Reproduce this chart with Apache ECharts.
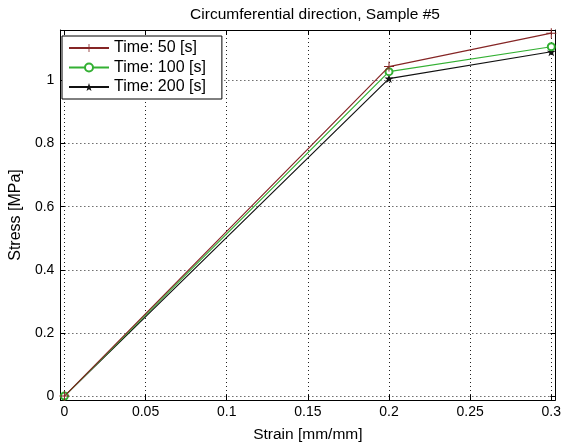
<!DOCTYPE html>
<html>
<head>
<meta charset="utf-8">
<script src="https://cdn.jsdelivr.net/npm/echarts@6/dist/echarts.min.js"></script>
<style>
html,body{margin:0;padding:0;background:#fff;}
#c{width:564px;height:448px;}
</style>
</head>
<body>
<div id="c"></div>
<script>
const titleText = 'Circumferential direction, Sample #5';
const xName = 'Strain [mm/mm]';
const yName = 'Stress [MPa]';
const strain = [0, 0.2, 0.3];
const stress50 = [0, 1.044, 1.150];
const stress100 = [0, 1.028, 1.107];
const stress200 = [0, 1.006, 1.091];
const seriesNames = ['Time: 50 [s]', 'Time: 100 [s]', 'Time: 200 [s]'];
const xTicks = [0, 0.05, 0.1, 0.15, 0.2, 0.25, 0.3];
const yTicks = [0, 0.2, 0.4, 0.6, 0.8, 1];

const font = 'Liberation Sans, Arial, sans-serif';
const chart = echarts.init(document.getElementById('c'), null, {renderer: 'canvas'});

function pairs(ys) { return strain.map((x, i) => [x, ys[i]]); }

const plusPath = 'path://M-0.6,-6h1.2v12h-1.2z M-6,-0.6h12v1.2h-12z';
const starPath = 'path://M0,-10 L2.35,-3.24 L9.51,-3.09 L3.8,1.24 L5.88,8.09 L0,4 L-5.88,8.09 L-3.8,1.24 L-9.51,-3.09 L-2.35,-3.24 Z';

const gridLine = {show: true, lineStyle: {color: '#222', type: [1, 3], width: 1}};
const frameLine = {show: true, onZero: false, lineStyle: {color: '#000', width: 1}};
const tickIn = {show: true, inside: true, length: 5, lineStyle: {color: '#000'}};

chart.setOption({
  animation: false,
  backgroundColor: '#fff',
  title: {
    text: titleText, left: 310, top: 2, textAlign: 'center',
    textStyle: {fontFamily: font, fontSize: 15.5, fontWeight: 'normal', color: '#000'}
  },
  grid: {left: 58, right: 3, top: 30, bottom: 46, containLabel: false},
  legend: {
    data: seriesNames, orient: 'vertical', left: 62, top: 36,
    backgroundColor: '#fff', borderColor: '#000', borderWidth: 1,
    padding: [4, 16, 4, 6], itemGap: 3.5, itemWidth: 40, itemHeight: 10,
    textStyle: {fontFamily: font, fontSize: 16, color: '#000'}
  },
  xAxis: [{
    type: 'value', min: -0.0025, max: 0.3025, position: 'bottom',
    name: xName, nameLocation: 'middle', nameGap: 27,
    nameTextStyle: {fontFamily: font, fontSize: 15.5, color: '#000'},
    axisLine: frameLine, axisTick: Object.assign({customValues: xTicks}, tickIn),
    axisLabel: {customValues: xTicks, fontFamily: font, fontSize: 14, color: '#000', margin: 5,
      formatter: v => String(+v.toFixed(2))},
    splitLine: Object.assign({customValues: xTicks}, gridLine)
  }, {
    type: 'value', min: -0.0025, max: 0.3025, position: 'top',
    axisLine: frameLine, axisTick: Object.assign({customValues: xTicks}, tickIn),
    axisLabel: {show: false}, splitLine: {show: false}
  }],
  yAxis: [{
    type: 'value', min: -0.0125, max: 1.16, position: 'left',
    name: yName, nameLocation: 'middle', nameGap: 32, nameRotate: 90,
    nameTextStyle: {fontFamily: font, fontSize: 16, color: '#000'},
    axisLine: frameLine, axisTick: Object.assign({customValues: yTicks}, tickIn),
    axisLabel: {customValues: yTicks, fontFamily: font, fontSize: 14, color: '#000', margin: 6,
      formatter: v => String(+v.toFixed(1))},
    splitLine: Object.assign({customValues: yTicks}, gridLine)
  }, {
    type: 'value', min: -0.0125, max: 1.16, position: 'right',
    axisLine: frameLine, axisTick: Object.assign({customValues: yTicks}, tickIn),
    axisLabel: {show: false}, splitLine: {show: false}
  }],
  series: [{
    name: seriesNames[0], type: 'line', data: pairs(stress50),
    symbol: plusPath, symbolSize: 10, color: '#852525',
    lineStyle: {width: 1.2, color: '#852525'}, itemStyle: {color: '#852525'}, z: 4
  }, {
    name: seriesNames[1], type: 'line', data: pairs(stress100),
    symbol: 'emptyCircle', symbolSize: 7, color: '#33b033',
    lineStyle: {width: 1.2, color: '#33b033'}, itemStyle: {color: '#33b033', borderWidth: 1}, z: 3
  }, {
    name: seriesNames[2], type: 'line', data: pairs(stress200),
    symbol: starPath, symbolSize: 9, color: '#111',
    lineStyle: {width: 1.2, color: '#111'}, itemStyle: {color: '#111'}, z: 2
  }]
});
</script>
</body>
</html>
